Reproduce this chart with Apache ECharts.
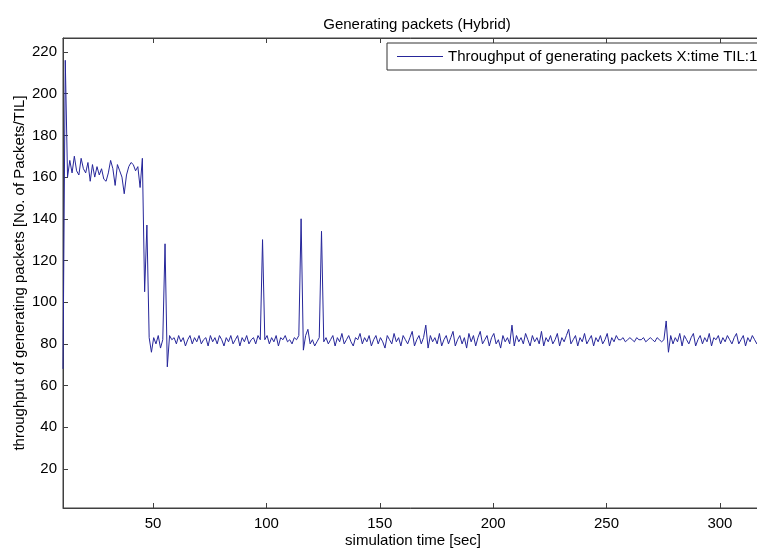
<!DOCTYPE html>
<html>
<head>
<meta charset="utf-8">
<script src="https://cdn.jsdelivr.net/npm/echarts@6/dist/echarts.min.js"></script>
<style>html,body{margin:0;padding:0;background:#fff}#c{width:757px;height:550px}</style>
</head>
<body>
<div id="c"></div>
<script>
// sample times: start and step (seconds)
const tStart = 10.3;
const tStep = 1;

// throughput values, read segment by segment
const phaseHigh = [68, 216, 160, 168, 162, 170, 163, 161, 169, 164, 162, 167, 158, 166, 160, 165, 161, 164, 159, 158,
  162, 168, 164, 156, 166, 163, 160, 152, 161, 165, 167, 166, 163, 165, 155, 169, 105, 137, 83];
const phaseSettle = [76, 83, 80, 84, 78, 82, 128, 69, 84, 82, 83, 80, 84, 81, 83, 79, 82, 84, 80, 83,
  81, 84, 80, 82, 83, 79, 84, 81, 83, 80, 84, 82, 79, 83, 81, 84, 80, 82, 84, 79,
  83, 81, 84, 80, 82, 83, 80, 84, 82];
const phaseSpikes = [130, 82, 84, 80, 83, 81, 84, 79, 83, 82, 84, 81, 82, 80, 83, 82, 84, 140, 77, 84,
  87, 80, 82, 79, 81, 83, 134, 81];
const phaseSteady = [83, 80, 82, 84, 79, 83, 81, 85, 80, 82,
  84, 81, 79, 83, 82, 85, 80, 83, 81, 84,
  79, 82, 84, 80, 83, 81, 78, 84, 82, 80,
  85, 81, 83, 79, 84, 82, 80, 83, 86, 79,
  82, 84, 80, 83, 89, 78, 84, 81, 83, 80,
  85, 79, 82, 84, 80, 83, 86, 79, 82, 84,
  80, 83, 78, 85, 81, 84, 79, 83, 86, 80,
  82, 84, 79, 83, 85, 80, 82, 78, 84, 81,
  83, 80, 89, 79, 84, 81, 83, 80, 85, 82,
  79, 84, 81, 83, 80, 86, 79, 83, 81, 84,
  80, 82, 85, 79, 83, 81, 84, 87, 80, 82,
  84, 79, 83, 81, 85, 80, 82, 84, 79, 83,
  81, 84, 80, 82, 85, 79, 83, 81, 84, 82,
  82, 83, 81, 82, 83, 82, 81, 83, 82, 82,
  83, 81, 82, 83, 82, 81, 83, 82, 81, 82,
  91, 76, 84, 80, 83, 81, 85, 79, 84, 82,
  80, 83, 85, 79, 82, 84, 80, 83, 81, 85,
  79, 83, 82, 84, 80, 83, 81, 84, 82, 80,
  83, 85, 80, 82, 84, 79, 83, 81, 84, 82,
  80, 83, 81];

const xTicks = [50, 100, 150, 200, 250, 300];
const yTicks = [20, 40, 60, 80, 100, 120, 140, 160, 180, 200, 220];

const values = phaseHigh.concat(phaseSettle, phaseSpikes, phaseSteady);
const points = values.map((v, i) => [+(tStart + i * tStep).toFixed(1), v]);

const font = 'Liberation Sans, Arial, sans-serif';
const axisColor = '#404040';
const lineColor = '#26269a';
const seriesName = 'Throughput of generating packets X:time TIL:1';
const chart = echarts.init(document.getElementById('c'), null, {renderer: 'canvas'});
chart.setOption({
  animation: false,
  backgroundColor: '#fff',
  title: {
    text: 'Generating packets (Hybrid)',
    left: 412, top: 12, textAlign: 'center',
    textStyle: {fontFamily: font, fontSize: 15, fontWeight: 'normal', color: '#000'}
  },
  legend: {
    left: 387, top: 43,
    padding: [6, 10, 6, 10],
    borderColor: '#333', borderWidth: 1, backgroundColor: '#fff',
    itemWidth: 46, itemHeight: 1,
    textStyle: {fontFamily: font, fontSize: 15, color: '#000'},
    data: [{name: seriesName, icon: 'rect', itemStyle: {color: lineColor}}]
  },
  grid: {left: 63, top: 38, width: 700, height: 470, show: true, borderColor: axisColor, borderWidth: 1,
    backgroundColor: '#fff', containLabel: false, outerBoundsMode: 'none'},
  xAxis: [{
    type: 'value', min: 10.3, max: 319, position: 'bottom',
    name: 'simulation time [sec]', nameLocation: 'middle', nameGap: 25, nameMoveOverlap: false,
    nameTextStyle: {fontFamily: font, fontSize: 15, color: '#000'},
    axisLine: {show: true, lineStyle: {color: axisColor}},
    axisTick: {show: true, inside: true, length: 5, lineStyle: {color: axisColor}, customValues: xTicks},
    axisLabel: {show: true, margin: 8, fontFamily: font, fontSize: 15, color: '#000', customValues: xTicks},
    splitLine: {show: false}
  }, {
    type: 'value', min: 10.3, max: 319, position: 'top',
    axisLine: {show: true, lineStyle: {color: axisColor}},
    axisTick: {show: true, inside: true, length: 5, lineStyle: {color: axisColor}, customValues: xTicks},
    axisLabel: {show: false},
    splitLine: {show: false}
  }],
  yAxis: [{
    type: 'value', min: 1.3, max: 226.7,
    name: 'throughput of generating packets [No. of Packets/TIL]', nameLocation: 'middle', nameGap: 36, nameRotate: 90,
    nameMoveOverlap: false,
    nameTextStyle: {fontFamily: font, fontSize: 15, color: '#000'},
    axisLine: {show: true, lineStyle: {color: axisColor}},
    axisTick: {show: true, inside: true, length: 5, lineStyle: {color: axisColor}, customValues: yTicks},
    axisLabel: {show: true, margin: 6, fontFamily: font, fontSize: 15, color: '#000', customValues: yTicks},
    splitLine: {show: false}
  }],
  series: [{
    name: seriesName,
    type: 'line', xAxisIndex: 0, yAxisIndex: 0,
    data: points, symbol: 'none', showSymbol: false, sampling: null,
    lineStyle: {color: lineColor, width: 1},
    itemStyle: {color: lineColor}
  }]
});
</script>
</body>
</html>
